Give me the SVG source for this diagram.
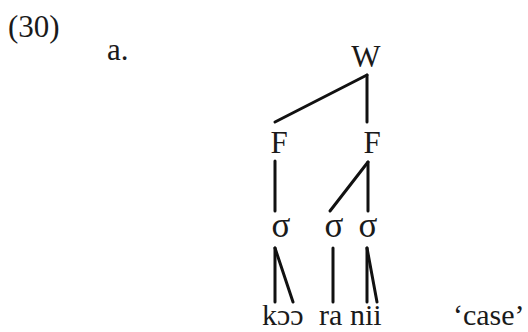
<svg xmlns="http://www.w3.org/2000/svg" width="528" height="332" viewBox="0 0 528 332">
<style>
text{font-family:"Liberation Serif","Times New Roman",serif;font-size:31px;fill:#1a1a1a}
.m{text-anchor:middle}
.s{font-size:35px}
.b{font-size:30px}
line{stroke:#111;stroke-width:3;stroke-linecap:round}
</style>
<rect width="528" height="332" fill="#fff"/>
<text x="8" y="37">(30)</text>
<text x="107" y="60">a.</text>
<g id="W"><text class="m" x="366" y="67">W</text></g>
<g id="F1"><text class="m" x="279" y="153">F</text></g>
<g id="F2"><text class="m" x="372" y="153">F</text></g>
<g id="s1"><text class="m s" x="281" y="237">σ</text></g>
<g id="s2"><text class="m s" x="334" y="237">σ</text></g>
<g id="s3"><text class="m s" x="368" y="237">σ</text></g>
<g id="seg"><text class="b" x="262" y="325">kɔɔ<tspan x="319">ra</tspan><tspan x="350">nii</tspan></text></g>
<g id="gloss"><text class="b" x="453" y="325">‘case’</text></g>
<g id="connectors">
<line x1="367" y1="75" x2="275" y2="122"/>
<line x1="367" y1="75" x2="367" y2="122"/>
<line x1="275" y1="161" x2="275" y2="211"/>
<line x1="368" y1="162" x2="330" y2="211"/>
<line x1="368" y1="162" x2="368" y2="211"/>
<line x1="275" y1="248" x2="275" y2="302"/>
<line x1="275" y1="248" x2="293" y2="302"/>
<line x1="333" y1="248" x2="333" y2="302"/>
<line x1="367" y1="248" x2="367" y2="302"/>
<line x1="367" y1="248" x2="377" y2="302"/>
</g>
</svg>
